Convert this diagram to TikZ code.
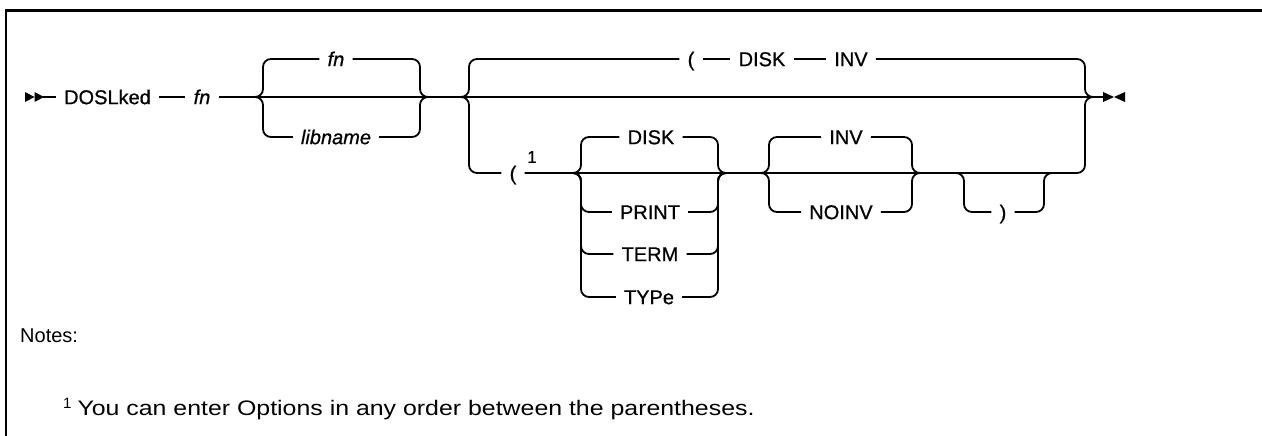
\documentclass[tikz,border=0pt]{standalone}
\usepackage{fontspec}
\setmainfont{Liberation Sans}
\newfontfamily\lblfont{Liberation Sans}[FakeBold=0.7]
\tikzset{
  rr/.style={line width=1.8pt, rounded corners=8pt},
  lbl/.style={inner xsep=8pt, inner ysep=0pt, text height=14.3pt, text depth=0pt,
              font=\lblfont\fontsize{20}{24}\selectfont},
  ital/.style={lbl, font=\lblfont\fontsize{20}{24}\selectfont\itshape},
  frame/.style={line width=2.6pt},
  notetext/.style={anchor=base west, inner sep=0pt, font=\fontsize{20.5}{24}\selectfont},
}
\begin{document}
\begin{tikzpicture}[x=1pt,y=-1pt]
\useasboundingbox (0,0) rectangle (1262,436);
% frame
\draw[frame] (6,436) -- (6,10.3) -- (1262,10.3);

% start and end marks
\fill (25,92) -- (34.5,97) -- (25,102) -- cycle;
\fill (34.5,92) -- (44,97) -- (34.5,102) -- cycle;
\fill (1103,92) -- (1114,97) -- (1103,102) -- cycle;
\fill (1125,92) -- (1114,97) -- (1125,102) -- cycle;
\coordinate (s) at (43,97);
\coordinate (e) at (1104,97);

% labels
\node[lbl]  (dos)   at (107.5,97) {DOSLked};
\node[ital] (fn1)   at (202,97)   {fn};
\node[ital] (fn2)   at (336,59)   {fn};
\node[ital] (lib)   at (336,137)  {libname};
\node[lbl]  (lp1)   at (691,59)   {(};
\node[lbl]  (disk1) at (762,59)   {DISK};
\node[lbl]  (inv1)  at (851,59)   {INV};
\node[lbl]  (lp2)   at (513,173)  {(};
\node[font=\lblfont\fontsize{17}{20}\selectfont, inner sep=0pt] (one) at (532,157) {1};
\node[lbl]  (disk2) at (651,137)  {DISK};
\node[lbl]  (print) at (650,212)  {PRINT};
\node[lbl]  (term)  at (650,254)  {TERM};
\node[lbl]  (type)  at (649,297)  {TYPe};
\node[lbl]  (inv2)  at (846,137)  {INV};
\node[lbl]  (noinv) at (841,212)  {NOINV};
\node[lbl]  (rp)    at (1003,212) {)};

% junctions
\coordinate (j1) at (254,97);   \coordinate (k1) at (429,97);
\coordinate (j2) at (460,97);   \coordinate (k2) at (1094,97);
\coordinate (j3) at (572,173);  \coordinate (k3) at (727,173);
\coordinate (j4) at (760,173);  \coordinate (k4) at (921,173);
\coordinate (j5) at (955,173);  \coordinate (k5) at (1053,173);

% main line
\draw[rr] (s) -- (dos);
\draw[rr] (dos) -- (fn1);
\draw[rr] (fn1) -- (e);

% choice 1
\draw[rr] (j1) -- ++(9,0) |- (fn2);
\draw[rr] (k1) -- ++(-9,0) |- (fn2);
\draw[rr] (j1) -- ++(9,0) |- (lib);
\draw[rr] (k1) -- ++(-9,0) |- (lib);

% choice 2, top branch
\draw[rr] (j2) -- ++(9,0) |- (lp1);
\draw[rr] (lp1) -- (disk1);
\draw[rr] (disk1) -- (inv1);
\draw[rr] (k2) -- ++(-9,0) |- (inv1);
% choice 2, bottom branch
\draw[rr] (j2) -- ++(9,0) |- (lp2);
\draw[rr] (k2) -- ++(-9,0) |- (lp2);

% group 3
\foreach \n in {disk2,print,term,type}{
  \draw[rr] (j3) -- ++(9,0) |- (\n);
  \draw[rr] (k3) -- ++(-9,0) |- (\n);
}
% group 4
\foreach \n in {inv2,noinv}{
  \draw[rr] (j4) -- ++(9,0) |- (\n);
  \draw[rr] (k4) -- ++(-9,0) |- (\n);
}
% group 5
\draw[rr] (j5) -- ++(9,0) |- (rp);
\draw[rr] (k5) -- ++(-9,0) |- (rp);

% notes
\node[notetext] (notes) at (20,342) {\fontsize{20}{24}\selectfont Notes:};
\node[notetext] (fnote) at (63,415)
  {{\fontsize{15}{17}\selectfont\raisebox{7pt}{1}}\hspace{6pt}\resizebox{677pt}{\height}{\fontsize{21}{25}\selectfont You can enter Options in any order between the parentheses.}};
\end{tikzpicture}
\end{document}
